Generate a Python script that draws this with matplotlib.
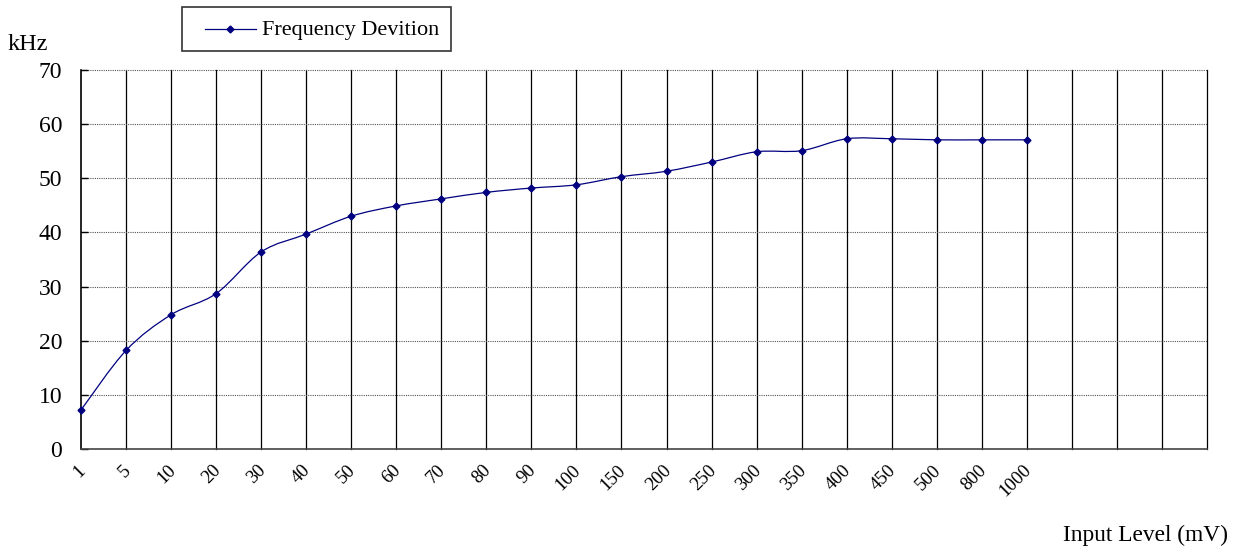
import matplotlib
matplotlib.use("Agg")
import matplotlib.pyplot as plt
import matplotlib.transforms as mtransforms
from matplotlib.path import Path
from matplotlib.patches import PathPatch, Rectangle
from matplotlib.lines import Line2D

plt.rcParams['font.family'] = ['Liberation Serif', 'DejaVu Serif']

# Data
levels = ["1", "5", "10", "20", "30", "40", "50", "60", "70", "80", "90", "100",
          "150", "200", "250", "300", "350", "400", "450", "500", "800", "1000"]
deviation = [7.2, 18.2, 24.8, 28.7, 36.4, 39.7, 43.0, 44.9, 46.2, 47.4, 48.2, 48.8,
             50.3, 51.3, 53.0, 54.9, 55.1, 57.3, 57.3, 57.1, 57.1, 57.1]
n_slots = 25  # axis keeps empty categories after 1000

navy = "#000080"
W, H = 1248, 550

fig = plt.figure(figsize=(W / 100, H / 100), dpi=100)
ax = fig.add_axes([81 / W, 101 / H, 1126 / W, 379 / H])

x = list(range(len(levels)))

# smoothed line (Excel style) drawn as bezier path in data coords
verts = [(x[0], deviation[0])]
codes = [Path.MOVETO]
for i in range(len(x) - 1):
    p0 = (x[max(i - 1, 0)], deviation[max(i - 1, 0)])
    p1 = (x[i], deviation[i])
    p2 = (x[i + 1], deviation[i + 1])
    p3 = (x[min(i + 2, len(x) - 1)], deviation[min(i + 2, len(x) - 1)])
    c1 = (p1[0] + (p2[0] - p0[0]) / 6, p1[1] + (p2[1] - p0[1]) / 6)
    c2 = (p2[0] - (p3[0] - p1[0]) / 6, p2[1] - (p3[1] - p1[1]) / 6)
    verts += [c1, c2, p2]
    codes += [Path.CURVE4] * 3
ax.add_patch(PathPatch(Path(verts, codes), fill=False, edgecolor=navy, lw=0.9, zorder=3))
ax.plot(x, deviation, linestyle="none", marker="D", markersize=3.5, color=navy,
        zorder=4, clip_on=False)

ax.set_xlim(0, n_slots)
ax.set_ylim(0, 70)

# grid
for k in range(1, n_slots + 1):
    ax.axvline(k, color="black", lw=0.9, zorder=1, clip_on=False)
for v in range(10, 71, 10):
    ax.axhline(v, color="#555555", lw=0.8, linestyle=(0, (1, 1)), zorder=1, clip_on=False)

ax.set_yticks(range(0, 71, 10))
ax.set_yticklabels([str(v) for v in range(0, 71, 10)], fontsize=17)
ax.tick_params(axis="y", direction="in", length=5, width=1, pad=13.5)

ax.set_xticks(x)
ax.set_xticklabels(levels, fontsize=13.5, rotation=45, ha="right", va="center",
                   rotation_mode="anchor")
ax.tick_params(axis="x", length=0, pad=13.5)
offset = mtransforms.ScaledTranslation(2 / 100, 0, fig.dpi_scale_trans)
for lab in ax.get_xticklabels():
    lab.set_transform(lab.get_transform() + offset)

for s in ["top", "right"]:
    ax.spines[s].set_visible(False)
ax.spines["left"].set_linewidth(1.2)
ax.spines["bottom"].set_linewidth(1.2)
ax.spines["bottom"].set_color("#444444")

fig.text(8 / W, 1 - 44 / H, "kHz", fontsize=17.5, va="center", ha="left")
fig.text(1228 / W, 1 - 535 / H, "Input Level (mV)", fontsize=16.8, va="center", ha="right")

# legend box
fig.patches.append(Rectangle((182 / W, 1 - 51 / H), 269 / W, 44 / H, transform=fig.transFigure,
                             fill=False, edgecolor="#333333", lw=1.2))
fig.lines.append(Line2D([205 / W, 256 / W], [1 - 29 / H, 1 - 29 / H], transform=fig.transFigure,
                        color=navy, lw=0.9))
fig.lines.append(Line2D([230 / W], [1 - 29 / H], transform=fig.transFigure, color=navy,
                        marker="D", markersize=3.5, linestyle="none"))
fig.text(262 / W, 1 - 30 / H, "Frequency Devition", fontsize=16, va="center", ha="left")

fig.savefig("out.png", dpi=100)
